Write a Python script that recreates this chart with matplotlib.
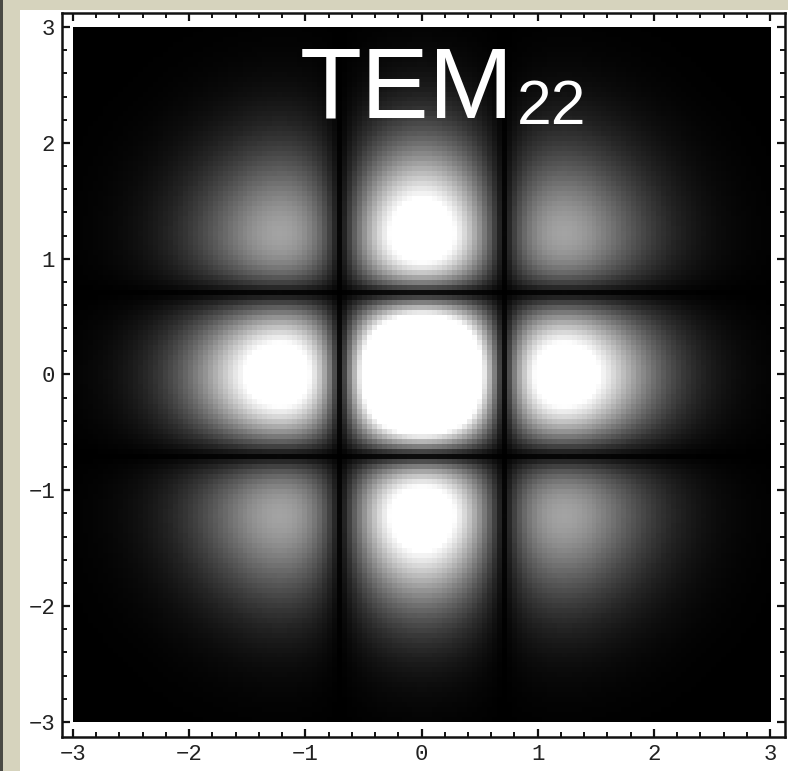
#!/usr/bin/env python3

import numpy as np
import matplotlib.pyplot as plt
from matplotlib.patches import Rectangle
from matplotlib.ticker import MultipleLocator

# Hermite-Gauss mode indices and plot grid
m_index = 2
n_index = 2
x_range = [-3.0, 3.0]
plot_points = 140
clip_level = 1.4
gray_gamma = 0.8
tick_values = [-3, -2, -1, 0, 1, 2, 3]
mode_label = 'TEM'
mode_sub = '22'


def hermite(n, x):
	if n == 0:
		return np.ones_like(x)
	if n == 1:
		return 2 * x
	return 2 * x * hermite(n - 1, x) - 2 * (n - 1) * hermite(n - 2, x)


def field(x, y):
	return np.abs(hermite(m_index, x) * hermite(n_index, y)) * np.exp(-(x**2 + y**2))


def main():
	xs = np.linspace(x_range[0], x_range[1], plot_points)
	X, Y = np.meshgrid(xs, xs)
	Z = np.clip(field(X, Y) / clip_level, 0, 1) ** gray_gamma

	fig = plt.figure(figsize=(7.88, 7.71), dpi=100)
	fig.patch.set_facecolor('white')
	# slide background showing along top and left
	fig.patches.append(Rectangle((0, 1 - 10 / 771), 1, 10 / 771, transform=fig.transFigure,
		facecolor='#d6d3bd', edgecolor='none', zorder=0))
	fig.patches.append(Rectangle((0, 0), 20 / 788, 1, transform=fig.transFigure,
		facecolor='#d6d3bd', edgecolor='none', zorder=0))
	fig.patches.append(Rectangle((0, 0), 3 / 788, 1, transform=fig.transFigure,
		facecolor='#4a4a44', edgecolor='none', zorder=0))

	ax = fig.add_axes([62 / 788, (771 - 737) / 771, 723 / 788, 724 / 771])
	ax.set_facecolor('white')
	ax.imshow(Z, extent=[-3, 3, -3, 3], origin='lower', cmap='gray',
		vmin=0, vmax=1, interpolation='nearest', aspect='auto')
	ax.set_xlim(-3 - 11 / 116.2, 3 + 15 / 116.2)
	ax.set_ylim(-3 - 15 / 115.8, 3 + 14 / 115.8)

	for s in ax.spines.values():
		s.set_linewidth(1.8)
		s.set_color('#111111')
	ax.set_xticks(tick_values)
	ax.set_yticks(tick_values)
	ax.xaxis.set_minor_locator(MultipleLocator(0.2))
	ax.yaxis.set_minor_locator(MultipleLocator(0.2))
	ax.tick_params(which='both', direction='in', top=True, right=True, color='#111111')
	ax.tick_params(which='major', length=6, width=1.6, labelsize=16, pad=5)
	ax.tick_params(which='minor', length=3.5, width=1.4)
	labels = [f'\u2212{abs(v)}' if v < 0 else str(v) for v in tick_values]
	ax.set_xticklabels(labels, family='Liberation Mono', color='#222222')
	ax.set_yticklabels(labels, family='Liberation Mono', color='#222222')

	ax.text(-1.05, 2.22, mode_label, color='white', fontsize=73,
		family='Liberation Sans', ha='left', va='baseline')
	ax.text(0.82, 2.16, mode_sub, color='white', fontsize=45,
		family='Liberation Sans', ha='left', va='baseline')

	fig.savefig('out.png', dpi=100)


if __name__ == '__main__':
	main()
